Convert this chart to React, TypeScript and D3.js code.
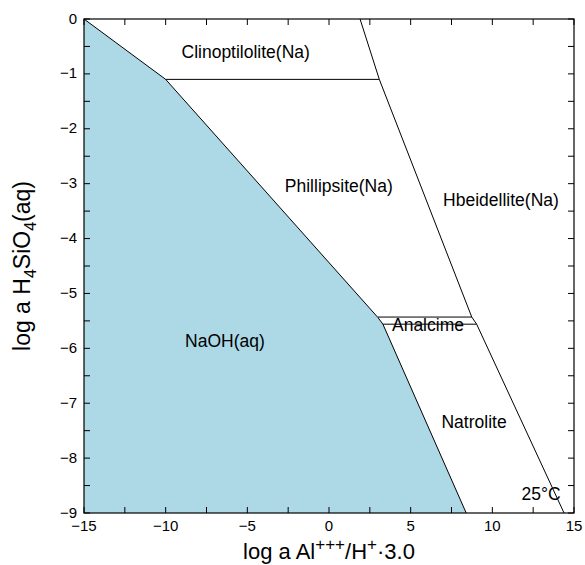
import React from "react";
import * as d3 from "d3";

// Boundary lines (data units: x = log a Al+++/H+·3.0, y = log a H4SiO4(aq))
const naohX = [-15, -10, 3.0, 3.3, 8.4];
const naohY = [0, -1.1, -5.44, -5.56, -9];
const hbeidX = [1.9, 3.08, 8.74, 9.04, 14.39];
const hbeidY = [0, -1.1, -5.43, -5.56, -9];
const clinoX = [-10, 3.08];
const clinoY = [-1.1, -1.1];
const analUpperX = [3.0, 8.74];
const analUpperY = [-5.43, -5.43];
const analLowerX = [3.3, 9.04];
const analLowerY = [-5.56, -5.56];

const labelTexts = ["Clinoptilolite(Na)", "Phillipsite(Na)", "Hbeidellite(Na)", "NaOH(aq)", "Analcime", "Natrolite", "25°C"];
const labelX = [-5.1, 0.6, 10.53, -6.37, 6.06, 8.88, 12.98];
const labelY = [-0.71, -3.15, -3.41, -5.97, -5.68, -7.45, -8.76];

const xMajorTicks = [-15, -10, -5, 0, 5, 10, 15];
const yMajorTicks = [0, -1, -2, -3, -4, -5, -6, -7, -8, -9];

const W = 585, H = 565;
const M = { left: 84, right: 11, top: 19, bottom: 52 };
const FONT = "'Liberation Sans', Arial, Helvetica, sans-serif";

export default function App() {
  const x = d3.scaleLinear().domain([-15, 15]).range([M.left, W - M.right]);
  const y = d3.scaleLinear().domain([0, -9]).range([M.top, H - M.bottom]);
  const line = d3.line<[number, number]>().x(d => x(d[0])).y(d => y(d[1]));
  const zip = (a: number[], b: number[]) => a.map((v, i) => [v, b[i]] as [number, number]);

  const fillPts = [...zip(naohX, naohY), [-15, -9] as [number, number]];
  const xTicksAll = d3.range(-15, 15.01, 2.5);
  const yTicksAll = d3.range(0, -9.01, -0.5);
  const tl = 6;
  const x0 = x(-15), x1 = x(15), y0 = y(0), y1 = y(-9);
  const fmt = (v: number) => (v < 0 ? "\u2212" + Math.abs(v) : String(v));

  return (
    <svg width={W} height={H} style={{ position: "absolute", left: 0, top: 0, background: "#fff" }} fontFamily={FONT}>
      <path d={line(fillPts) + "Z"} fill="#add8e6" stroke="none" />
      <g fill="none" stroke="#000" strokeWidth={1}>
        <path d={line(zip(naohX, naohY))!} />
        <path d={line(zip(hbeidX, hbeidY))!} />
        <path d={line(zip(clinoX, clinoY))!} />
        <path d={line(zip(analUpperX, analUpperY))!} />
        <path d={line(zip(analLowerX, analLowerY))!} />
      </g>
      {/* frame */}
      <rect x={x0} y={y0} width={x1 - x0} height={y1 - y0} fill="none" stroke="#000" strokeWidth={1.2} />
      <g stroke="#000" strokeWidth={1}>
        {xTicksAll.map(t => (
          <g key={"xt" + t}>
            <line x1={x(t)} x2={x(t)} y1={y1} y2={y1 - tl} />
            <line x1={x(t)} x2={x(t)} y1={y0} y2={y0 + tl} />
          </g>
        ))}
        {yTicksAll.map(t => (
          <g key={"yt" + t}>
            <line x1={x0} x2={x0 + tl} y1={y(t)} y2={y(t)} />
            <line x1={x1} x2={x1 - tl} y1={y(t)} y2={y(t)} />
          </g>
        ))}
      </g>
      <g fontSize={15} fill="#000">
        {xMajorTicks.map(t => (
          <text key={"xl" + t} x={x(t)} y={y1 + 18} textAnchor="middle">{fmt(t)}</text>
        ))}
        {yMajorTicks.map(t => (
          <text key={"yl" + t} x={x0 - 7} y={y(t) + 4.5} textAnchor="end">{fmt(t)}</text>
        ))}
      </g>
      <g fontSize={17.5} fill="#000">
        {labelTexts.map((s, i) => (
          <text key={s} x={x(labelX[i])} y={y(labelY[i])} textAnchor="middle">{s}</text>
        ))}
      </g>
      <text x={(x0 + x1) / 2} y={559} textAnchor="middle" fontSize={22}>
        log a Al<tspan dy={-9} fontSize={17}>+++</tspan><tspan dy={9}>/H</tspan><tspan dy={-9} fontSize={17}>+</tspan><tspan dy={9}>·3.0</tspan>
      </text>
      <text transform={`translate(30,${(y0 + y1) / 2}) rotate(-90)`} textAnchor="middle" fontSize={23}>
        log a H<tspan dy={6} fontSize={16}>4</tspan><tspan dy={-6}>SiO</tspan><tspan dy={6} fontSize={16}>4</tspan><tspan dy={-6}>(aq)</tspan>
      </text>
    </svg>
  );
}
